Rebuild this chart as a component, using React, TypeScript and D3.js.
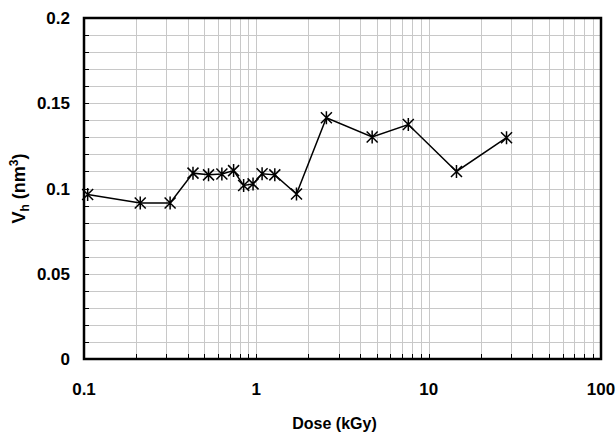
import { useEffect, useRef } from "react";
import * as d3 from "d3";

const dose = [0.105, 0.212, 0.316, 0.429, 0.528, 0.631, 0.738, 0.844, 0.957, 1.08, 1.28, 1.71, 2.55, 4.7, 7.62, 14.5, 28.3];
const vh = [0.0965, 0.0915, 0.0915, 0.109, 0.108, 0.1085, 0.1105, 0.1018, 0.1027, 0.1086, 0.108, 0.0968, 0.1415, 0.1302, 0.1375, 0.110, 0.1298];
const xTicks = [0.1, 1, 10, 100];
const yTicks = [0, 0.05, 0.1, 0.15, 0.2];

const App = () => {
  const svgRef = useRef<SVGSVGElement>(null);

  useEffect(() => {
    const W = 616, H = 433;
    const margin = { top: 18, right: 15, bottom: 74, left: 84 };
    const width = W - margin.left - margin.right;
    const height = H - margin.top - margin.bottom;

    const root = d3.select(svgRef.current);
    root.selectAll("*").remove();
    const svg = root.append("g").attr("transform", `translate(${margin.left},${margin.top})`);

    const x = d3.scaleLog().domain([0.1, 100]).range([0, width]);
    const y = d3.scaleLinear().domain([0, 0.2]).range([height, 0]);

    // minor grid values for log axis
    const minors: number[] = [];
    [0.1, 1, 10].forEach(d => { for (let k = 1; k <= 9; k++) minors.push(d * k); });
    minors.push(100);
    const yGrid = d3.range(0, 21).map(i => i * 0.01);

    const grid = svg.append("g").attr("stroke", "#c8c8c8").attr("stroke-width", 1);
    grid.selectAll(".vx").data(minors).join("line")
      .attr("x1", d => Math.round(x(d)) + 0.5).attr("x2", d => Math.round(x(d)) + 0.5)
      .attr("y1", 0).attr("y2", height);
    grid.selectAll(".hy").data(yGrid).join("line")
      .attr("x1", 0).attr("x2", width)
      .attr("y1", d => Math.round(y(d)) + 0.5).attr("y2", d => Math.round(y(d)) + 0.5);

    // inward tick marks
    const ticks = svg.append("g").attr("stroke", "#000").attr("stroke-width", 1);
    ticks.selectAll(".tx").data(minors).join("line")
      .attr("x1", d => Math.round(x(d)) + 0.5).attr("x2", d => Math.round(x(d)) + 0.5)
      .attr("y1", height).attr("y2", height - 5);
    ticks.selectAll(".ty").data(yGrid).join("line")
      .attr("x1", 0).attr("x2", 5)
      .attr("y1", d => Math.round(y(d)) + 0.5).attr("y2", d => Math.round(y(d)) + 0.5);

    // frame
    svg.append("rect").attr("x", 0).attr("y", 0).attr("width", width).attr("height", height)
      .attr("fill", "none").attr("stroke", "#000").attr("stroke-width", 2.5);

    // tick labels
    const font = "'Liberation Sans', Arial, sans-serif";
    svg.append("g").selectAll("text").data(yTicks).join("text")
      .attr("x", -14).attr("y", d => y(d)).attr("dy", "0.36em")
      .attr("text-anchor", "end").attr("font-family", font).attr("font-weight", "bold")
      .attr("font-size", 17).text(d => String(d));
    svg.append("g").selectAll("text").data(xTicks).join("text")
      .attr("x", d => x(d)).attr("y", height + 36)
      .attr("text-anchor", "middle").attr("font-family", font).attr("font-weight", "bold")
      .attr("font-size", 17).text(d => String(d));

    // titles
    svg.append("text").attr("x", width / 2 - 8).attr("y", height + 70)
      .attr("text-anchor", "middle").attr("font-family", font).attr("font-weight", "bold")
      .attr("font-size", 16).text("Dose (kGy)");

    const yt = svg.append("text").attr("transform", `translate(-59,${height / 2}) rotate(-90)`)
      .attr("text-anchor", "middle").attr("font-family", font).attr("font-weight", "bold")
      .attr("font-size", 18);
    yt.append("tspan").text("V");
    yt.append("tspan").attr("font-size", 12).attr("dy", 4).text("h");
    yt.append("tspan").attr("dy", -4).text(" (nm");
    yt.append("tspan").attr("font-size", 12).attr("dy", -7).text("3");
    yt.append("tspan").attr("dy", 7).text(")");

    // line
    const pts = dose.map((d, i) => [d, vh[i]] as [number, number]);
    const line = d3.line<[number, number]>().x(d => x(d[0])).y(d => y(d[1]));
    svg.append("path").datum(pts).attr("fill", "none").attr("stroke", "#000")
      .attr("stroke-width", 1.5).attr("d", line);

    // star markers
    const r = 5.5;
    const star = `M${-r},${-r}L${r},${r}M${-r},${r}L${r},${-r}M0,${-r - 1}L0,${r + 1}`;
    svg.append("g").selectAll("path").data(pts).join("path")
      .attr("transform", d => `translate(${x(d[0])},${y(d[1])})`)
      .attr("d", star).attr("stroke", "#000").attr("stroke-width", 1.5).attr("fill", "none");
  }, []);

  return (
    <svg ref={svgRef} width={616} height={433}
      style={{ position: "absolute", left: 0, top: 0, background: "#fff" }} />
  );
};

export default App;
